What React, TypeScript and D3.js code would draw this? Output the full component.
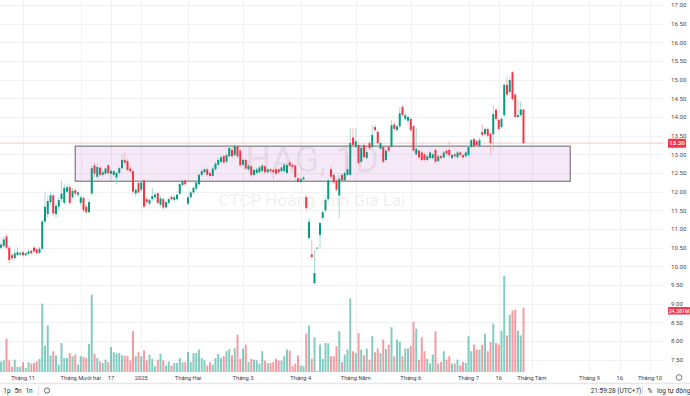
import React, { useEffect, useRef } from "react";
import * as d3 from "d3";

// daily OHLC, thousand VND, oldest first
const opens = [
  10.5, 10.55, 10.8, 10.5, 10.3, 10.22, 10.3, 10.32, 10.38, 10.3, 10.33, 10.42, 10.5, 10.45, 10.36, 10.47,
  11.2, 11.4, 11.72, 11.9, 11.4, 11.6, 11.8, 11.7, 12.0, 12.12, 11.85, 12.04, 11.92, 11.7, 11.83, 11.6,
  11.45, 11.95, 12.7, 12.4, 12.64, 12.45, 12.48, 12.71, 12.48, 12.45, 12.38, 12.5, 12.63, 12.85, 12.82, 12.62,
  12.55, 11.95, 12.23, 12.05, 12.3, 11.8, 11.68, 11.8, 11.85, 11.96, 11.65, 11.8, 11.58, 11.7, 11.86, 11.78,
  11.8, 11.95, 12.18, 12.3, 11.68, 11.85, 11.98, 12.08, 12.2, 12.45, 12.52, 12.6, 12.5, 12.42, 12.6, 12.72,
  12.8, 12.95, 12.8, 12.95, 13.12, 12.98, 13.22, 13.1, 12.72, 12.85, 12.6, 12.68, 12.45, 12.5, 12.52, 12.55,
  12.68, 12.52, 12.6, 12.58, 12.6, 12.6, 12.55, 12.55, 12.5, 12.78, 12.72, 12.7, 12.36, 12.26, 12.33, 11.86,
  10.76, 10.32, 9.55, 10.48, 10.84, 11.3, 11.5, 11.8, 12.6, 12.45, 12.3, 11.9, 12.45, 12.3, 12.45, 12.45,
  13.45, 13.2, 13.25, 12.8, 13.25, 12.9, 13.3, 13.2, 13.73, 13.6, 13.15, 13.2, 12.85, 13.2, 13.2, 13.8,
  13.65, 13.75, 14.27, 13.95, 13.9, 13.95, 13.75, 13.0, 13.1, 13.05, 13.0, 12.85, 12.9, 12.9, 13.12, 12.82,
  12.95, 12.92, 13.1, 13.12, 12.9, 13.0, 12.92, 13.05, 12.98, 12.95, 12.98, 13.2, 13.41, 13.35, 13.22, 13.6,
  13.54, 13.68, 13.55, 13.54, 14.19, 13.92, 13.73, 14.05, 14.86, 14.67, 15.2, 14.6, 14.0, 14.05, 14.2,
];
const highs = [
  10.65, 10.8, 10.85, 10.55, 10.35, 10.45, 10.5, 10.42, 10.42, 10.4, 10.45, 10.45, 10.55, 10.5, 10.52, 11.25,
  12.0, 11.9, 12.0, 11.95, 11.7, 11.85, 12.31, 12.2, 12.22, 12.2, 12.1, 12.08, 12.02, 11.9, 11.88, 11.65,
  11.8, 12.7, 12.78, 12.75, 12.7, 12.58, 12.65, 12.75, 12.6, 12.6, 12.55, 12.68, 12.98, 13.06, 12.88, 12.68,
  12.6, 12.1, 12.3, 12.31, 12.35, 11.85, 11.82, 12.1, 11.98, 12.0, 11.88, 11.85, 11.76, 11.85, 11.9, 11.9,
  11.96, 12.24, 12.33, 12.34, 11.9, 12.02, 12.14, 12.3, 12.5, 12.6, 12.66, 12.64, 12.55, 12.68, 12.8, 12.9,
  12.96, 13.0, 13.02, 13.22, 13.16, 13.28, 13.25, 13.14, 12.9, 12.9, 12.74, 12.72, 12.62, 12.64, 12.7, 12.75,
  12.72, 12.64, 12.64, 12.62, 12.64, 12.64, 12.7, 12.76, 12.76, 12.85, 12.76, 12.74, 12.4, 12.38, 12.42, 11.9,
  11.3, 10.7, 10.43, 10.52, 11.2, 11.5, 11.82, 12.35, 12.66, 12.5, 12.34, 12.45, 12.5, 12.55, 12.95, 13.7,
  13.7, 13.7, 13.32, 13.22, 13.3, 13.12, 13.36, 13.78, 13.8, 13.64, 13.34, 13.24, 13.14, 13.24, 13.92, 13.86,
  13.8, 14.27, 14.32, 14.1, 14.05, 14.0, 13.8, 13.7, 13.14, 13.1, 13.04, 13.0, 13.1, 13.05, 13.16, 13.0,
  13.0, 13.1, 13.14, 13.35, 13.02, 13.04, 13.1, 13.08, 13.02, 13.1, 13.24, 13.42, 13.45, 13.4, 13.45, 13.82,
  13.72, 13.72, 13.6, 14.32, 14.24, 13.96, 14.0, 14.9, 15.1, 15.07, 15.22, 14.64, 14.45, 14.42, 14.22,
];
const lows = [
  10.45, 10.5, 10.45, 10.08, 10.15, 10.2, 10.28, 10.28, 10.26, 10.27, 10.3, 10.32, 10.36, 10.3, 10.33, 10.45,
  11.15, 11.3, 11.65, 11.35, 11.3, 11.5, 11.72, 11.65, 11.95, 11.65, 11.8, 11.9, 11.85, 11.62, 11.45, 11.4,
  11.42, 11.9, 12.4, 12.35, 12.4, 12.4, 12.45, 12.45, 12.3, 12.4, 12.2, 12.45, 12.6, 12.72, 12.55, 12.5,
  11.95, 11.85, 11.95, 12.0, 11.55, 11.65, 11.62, 11.75, 11.8, 11.65, 11.6, 11.52, 11.55, 11.66, 11.76, 11.74,
  11.76, 11.92, 12.14, 12.15, 11.62, 11.82, 11.94, 12.04, 12.16, 12.4, 12.48, 12.4, 12.36, 12.4, 12.56, 12.68,
  12.76, 12.74, 12.76, 12.92, 12.9, 12.94, 12.9, 12.66, 12.68, 12.58, 12.56, 12.4, 12.42, 12.46, 12.48, 12.52,
  12.48, 12.48, 12.5, 12.35, 12.44, 12.48, 12.52, 12.52, 12.46, 12.66, 12.62, 12.35, 12.22, 12.22, 12.3, 11.5,
  10.7, 10.2, 9.52, 10.47, 10.5, 11.26, 11.46, 11.76, 12.36, 12.2, 12.0, 11.3, 12.26, 12.26, 12.42, 12.42,
  13.2, 13.16, 12.72, 12.76, 12.88, 12.86, 13.12, 13.16, 13.6, 13.26, 13.1, 12.76, 12.8, 13.06, 13.16, 13.64,
  13.6, 13.7, 14.0, 13.9, 13.8, 13.6, 13.05, 12.96, 12.88, 12.8, 12.8, 12.8, 12.86, 12.86, 12.76, 12.78,
  12.86, 12.88, 12.98, 12.94, 12.86, 12.9, 12.88, 12.94, 12.88, 12.92, 12.94, 13.16, 13.18, 13.2, 13.18, 13.48,
  13.5, 13.46, 13.0, 13.1, 13.9, 13.64, 13.68, 14.0, 14.55, 14.62, 14.44, 13.96, 13.96, 14.0, 13.28,
];
const closes = [
  10.58, 10.72, 10.5, 10.17, 10.22, 10.35, 10.38, 10.36, 10.3, 10.35, 10.4, 10.35, 10.4, 10.36, 10.47, 11.2,
  11.6, 11.75, 11.9, 11.42, 11.62, 11.78, 11.95, 12.1, 12.12, 11.7, 12.02, 11.95, 11.98, 11.85, 11.5, 11.45,
  11.72, 12.63, 12.48, 12.66, 12.45, 12.52, 12.62, 12.5, 12.56, 12.55, 12.5, 12.63, 12.85, 12.78, 12.58, 12.55,
  12.0, 12.05, 11.98, 12.25, 11.6, 11.72, 11.78, 11.88, 11.92, 11.7, 11.82, 11.58, 11.72, 11.8, 11.8, 11.85,
  11.92, 12.2, 12.28, 12.2, 11.85, 11.98, 12.1, 12.25, 12.45, 12.55, 12.6, 12.45, 12.42, 12.62, 12.75, 12.85,
  12.92, 12.78, 12.98, 13.17, 12.95, 13.22, 12.95, 12.71, 12.85, 12.62, 12.7, 12.45, 12.58, 12.6, 12.65, 12.7,
  12.52, 12.6, 12.55, 12.52, 12.48, 12.52, 12.65, 12.72, 12.71, 12.7, 12.66, 12.39, 12.26, 12.34, 12.38, 11.56,
  11.19, 10.25, 9.82, 10.5, 11.16, 11.45, 11.78, 12.3, 12.4, 12.25, 12.05, 12.35, 12.3, 12.5, 12.6, 13.3,
  13.25, 13.35, 12.77, 13.17, 12.93, 13.06, 13.17, 13.52, 13.65, 13.3, 13.3, 12.8, 13.1, 13.1, 13.78, 13.68,
  13.75, 14.1, 14.05, 14.05, 14.0, 13.65, 13.1, 13.15, 12.92, 12.85, 12.85, 12.95, 13.05, 13.0, 12.8, 12.95,
  12.9, 13.05, 13.02, 12.98, 12.98, 12.95, 13.05, 12.98, 12.92, 13.05, 13.2, 13.38, 13.22, 13.25, 13.38, 13.52,
  13.68, 13.5, 13.3, 14.08, 13.95, 13.68, 13.95, 14.86, 14.6, 14.99, 14.48, 14.0, 14.05, 14.2, 13.3,
];
// volume, millions of shares
const volumes = [
  4.0, 4.4, 12.7, 4.4, 2.0, 4.7, 2.0, 2.0, 3.7, 1.5, 3.7, 3.2, 3.4, 4.0, 5.0, 26.0,
  10.0, 17.7, 6.3, 7.9, 6.2, 2.8, 11.0, 5.3, 5.3, 7.2, 6.0, 6.6, 2.8, 6.0, 5.7, 5.3,
  10.6, 29.4, 7.0, 5.3, 4.0, 3.4, 4.7, 3.8, 9.5, 7.5, 7.0, 7.2, 6.3, 6.2, 6.0, 4.4,
  15.5, 6.0, 7.5, 6.0, 8.2, 4.4, 6.6, 5.0, 2.2, 4.7, 7.0, 4.4, 2.5, 4.0, 2.5, 3.4,
  3.4, 5.3, 3.7, 3.7, 7.6, 3.8, 7.2, 7.2, 8.5, 5.3, 4.4, 2.5, 3.7, 2.8, 5.3, 6.8,
  5.3, 6.0, 7.9, 8.7, 6.3, 9.0, 14.2, 5.0, 8.9, 10.4, 3.8, 5.0, 4.7, 4.4, 3.2, 7.9,
  4.3, 3.4, 3.4, 3.8, 5.0, 4.4, 4.3, 6.0, 8.5, 8.1, 2.2, 3.2, 6.3, 2.5, 2.2, 14.6,
  17.6, 5.0, 13.2, 0.5, 10.4, 5.0, 11.0, 10.9, 6.0, 6.0, 9.8, 15.5, 3.8, 6.6, 8.5, 28.0,
  7.9, 7.2, 14.8, 8.5, 6.3, 8.9, 4.7, 13.6, 7.5, 8.9, 7.2, 12.3, 8.7, 10.4, 17.0, 6.0,
  12.3, 11.4, 6.0, 8.9, 8.9, 9.8, 19.0, 16.5, 4.7, 13.2, 7.9, 5.0, 3.2, 6.6, 15.5, 3.2,
  3.8, 7.9, 4.7, 6.0, 3.2, 3.2, 4.7, 2.5, 3.8, 3.4, 13.6, 7.9, 10.4, 8.5, 8.5, 10.4,
  14.6, 7.9, 11.4, 18.4, 11.0, 10.4, 15.7, 36.6, 13.9, 21.8, 23.4, 23.7, 15.7, 13.9, 24.381,
];

const priceTicks = [7.5, 8, 8.5, 9, 9.5, 10, 10.5, 11, 11.5, 12, 12.5, 13, 13.5, 14, 14.5, 15, 15.5, 16, 16.5, 17];
const timeLabels = ["Tháng 11", "Tháng Mười hai", "17", "2025", "Tháng Hai", "Tháng 3", "Tháng 4", "Tháng Năm", "Tháng 6", "Tháng 7", "16", "Tháng Tám", "Tháng 9", "16", "Tháng 10"];
const timeBars = [8, 29, 40, 51, 68, 88, 109, 129, 149, 170, 181, 193, 214, 225, 236];

// drawn rectangle zone (bar index / price)
const zone = { from: 27, to: 207, top: 13.22, bottom: 12.28 };
const lastPrice = 13.3;
const lastVolumeLabel = "24.381M";

const UP = "#089981";
const DOWN = "#f23645";
const UP_WICK = "#8fd3c6";
const DOWN_WICK = "#f7a6ad";
const FONT = "Roboto, 'Noto Sans', sans-serif";

export default function App() {
  const ref = useRef<SVGSVGElement>(null);

  useEffect(() => {
    const svg = d3.select(ref.current);
    svg.selectAll("*").remove();

    const plotRight = 663;
    const x = d3.scaleLinear().domain([0, 193]).range([1, 531.75]);
    const y = d3.scaleLinear().domain([7.5, 17]).range([359.7, 5]);
    const yv = d3.scaleLinear().domain([0, 38]).range([372, 272]);

    const bars = closes.map((c, i) => ({
      i, o: opens[i], h: highs[i], l: lows[i], c, v: volumes[i], up: c >= opens[i],
    }));

    svg.append("rect").attr("width", 690).attr("height", 396).attr("fill", "#fff");

    // grid
    const grid = svg.append("g").attr("stroke", "#f0f1f4").attr("stroke-width", 1);
    grid.selectAll("line.h").data(priceTicks).join("line")
      .attr("x1", 0).attr("x2", plotRight)
      .attr("y1", d => Math.round(y(d)) + 0.5).attr("y2", d => Math.round(y(d)) + 0.5);
    grid.selectAll("line.v").data(timeBars).join("line")
      .attr("x1", d => Math.round(x(d)) + 0.5).attr("x2", d => Math.round(x(d)) + 0.5)
      .attr("y1", 0).attr("y2", 372);

    // watermark
    svg.append("text").attr("x", 312).attr("y", 172).attr("text-anchor", "middle")
      .attr("font-family", FONT).attr("font-size", 36).attr("fill", "rgba(120,123,134,0.12)")
      .text("HAG, 1D");
    svg.append("text").attr("x", 312).attr("y", 206).attr("text-anchor", "middle")
      .attr("font-family", FONT).attr("font-size", 17).attr("fill", "rgba(120,123,134,0.12)")
      .text("CTCP Hoàng Anh Gia Lai");

    // volume
    svg.append("g").selectAll("rect").data(bars).join("rect")
      .attr("x", d => x(d.i) - 1).attr("width", 2)
      .attr("y", d => yv(d.v)).attr("height", d => yv(0) - yv(d.v))
      .attr("fill", d => (d.up ? UP : DOWN)).attr("fill-opacity", 0.5);

    // zone rectangle
    svg.append("rect")
      .attr("x", x(zone.from)).attr("width", x(zone.to) - x(zone.from))
      .attr("y", y(zone.top)).attr("height", y(zone.bottom) - y(zone.top))
      .attr("fill", "rgba(156,39,176,0.1)").attr("stroke", "#7b7b80").attr("stroke-width", 1.2);

    // last price line
    svg.append("line").attr("x1", 0).attr("x2", plotRight)
      .attr("y1", y(lastPrice)).attr("y2", y(lastPrice))
      .attr("stroke", DOWN).attr("stroke-opacity", 0.35).attr("stroke-width", 0.8);

    // candles
    const candle = svg.append("g").selectAll("g").data(bars).join("g");
    candle.append("line")
      .attr("x1", d => x(d.i)).attr("x2", d => x(d.i))
      .attr("y1", d => y(d.h)).attr("y2", d => y(d.l))
      .attr("stroke", d => (d.up ? UP_WICK : DOWN_WICK)).attr("stroke-width", 0.8);
    candle.append("rect")
      .attr("x", d => x(d.i) - 1).attr("width", 2)
      .attr("y", d => y(Math.max(d.o, d.c)))
      .attr("height", d => Math.max(0.8, Math.abs(y(d.o) - y(d.c))))
      .attr("fill", d => (d.up ? UP : DOWN));

    // price axis
    svg.append("g").selectAll("text").data(priceTicks).join("text")
      .attr("x", 671).attr("y", d => y(d) + 2.2)
      .attr("font-family", FONT).attr("font-size", 6.2).attr("fill", "#4a4a4f")
      .text(d => d3.format(".2f")(d));

    svg.append("rect").attr("x", 668).attr("y", y(lastPrice) - 4.5).attr("width", 18).attr("height", 9)
      .attr("rx", 1).attr("fill", DOWN);
    svg.append("text").attr("x", 677).attr("y", y(lastPrice) + 2.3).attr("text-anchor", "middle")
      .attr("font-family", FONT).attr("font-size", 6.2).attr("font-weight", 500).attr("fill", "#fff")
      .text(d3.format(".2f")(lastPrice));

    const lastVol = volumes[volumes.length - 1];
    const vy = yv(lastVol) + 2.8;
    svg.append("rect").attr("x", 668).attr("y", vy - 3.6).attr("width", 22).attr("height", 7.4)
      .attr("rx", 1).attr("fill", DOWN);
    svg.append("text").attr("x", 679).attr("y", vy + 2).attr("text-anchor", "middle")
      .attr("font-family", FONT).attr("font-size", 5.2).attr("font-weight", 500).attr("fill", "#fff")
      .text(lastVolumeLabel);

    // time axis
    svg.append("g").selectAll("text").data(timeLabels).join("text")
      .attr("x", (d, i) => x(timeBars[i])).attr("y", 379.5).attr("text-anchor", "middle")
      .attr("font-family", FONT).attr("font-size", 5.8)
      .attr("fill", "#3a3a3f")
      .text(d => d);
    svg.append("circle").attr("cx", 679).attr("cy", 377.5).attr("r", 2.8)
      .attr("fill", "none").attr("stroke", "#555").attr("stroke-width", 0.8);

    // bottom toolbar
    svg.append("line").attr("x1", 0).attr("x2", 690).attr("y1", 383.5).attr("y2", 383.5)
      .attr("stroke", "#e6e7ea").attr("stroke-width", 1.5);
    const tb = svg.append("g").attr("font-family", FONT).attr("font-size", 6.5).attr("fill", "#2a2a2e");
    [["1p", 7], ["5n", 18], ["1n", 29]].forEach(([t, px]) => {
      tb.append("text").attr("x", px as number).attr("y", 392.5).attr("text-anchor", "middle").text(t as string);
    });
    svg.append("line").attr("x1", 38.5).attr("x2", 38.5).attr("y1", 386).attr("y2", 395).attr("stroke", "#dcdde1");
    svg.append("circle").attr("cx", 47).attr("cy", 390.5).attr("r", 2.6)
      .attr("fill", "none").attr("stroke", "#444").attr("stroke-width", 0.8);
    tb.append("text").attr("x", 616).attr("y", 392.5).attr("text-anchor", "middle").text("21:59:28 (UTC+7)");
    svg.append("line").attr("x1", 642.5).attr("x2", 642.5).attr("y1", 386).attr("y2", 395).attr("stroke", "#dcdde1");
    tb.append("text").attr("x", 650).attr("y", 392.5).attr("text-anchor", "middle").text("%");
    tb.append("text").attr("x", 661.5).attr("y", 392.5).attr("text-anchor", "middle").text("log");
    tb.append("text").attr("x", 679).attr("y", 392.5).attr("text-anchor", "middle").text("tự động");
  }, []);

  return (
    <svg
      ref={ref}
      width={690}
      height={396}
      style={{ position: "absolute", left: 0, top: 0, display: "block" }}
    />
  );
}
